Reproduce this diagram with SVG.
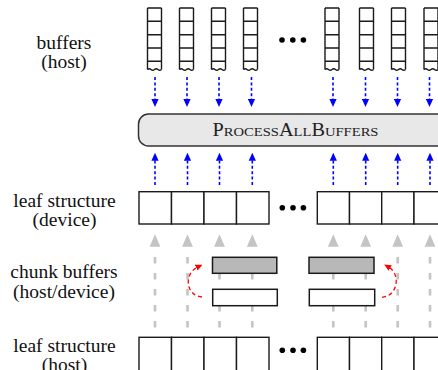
<svg xmlns="http://www.w3.org/2000/svg" xmlns:xlink="http://www.w3.org/1999/xlink" width="438" height="370" viewBox="0 0 438 370">
<style>
  .lbl { font-family: "Liberation Serif", "Times New Roman", serif; font-size: 19.5px; fill: #111; text-anchor: middle; }
  .frame { fill: none; stroke: #1a1a1a; stroke-width: 1.4; }
  .cell { fill: #fff; stroke: #1a1a1a; stroke-width: 1.4; }
  .dot { fill: #000; }
  .blue { fill: none; stroke: #0000ff; stroke-width: 1.6; stroke-dasharray: 3 2.4; }
  .gray { fill: none; stroke: #c4c4c4; stroke-width: 2.6; stroke-dasharray: 6.5 9.5; }
  .grayhead { fill: #c4c4c4; }
  .red { fill: none; stroke: #ff0000; stroke-width: 1.3; stroke-dasharray: 4 3; }
  .chunkfull { fill: #b8b8b8; stroke: #1a1a1a; stroke-width: 1.5; }
  .chunkempty { fill: #fff; stroke: #1a1a1a; stroke-width: 1.5; }
  .proc { fill: #e8e8e8; stroke: #333; stroke-width: 1.5; }
  .proctext { font-family: "Liberation Serif", "Times New Roman", serif; font-size: 18px; font-variant: small-caps; fill: #222; text-anchor: middle; }
</style>
<defs>
  <marker id="bluehead" viewBox="0 0 8 8" markerWidth="8" markerHeight="8" refX="2" refY="4" markerUnits="userSpaceOnUse" orient="auto">
    <path d="M0,0.4 L8,4 L0,7.6 z" fill="#0000ff"/>
  </marker>
  <marker id="redhead" viewBox="0 0 7 7" markerWidth="7" markerHeight="7" refX="2" refY="3.5" markerUnits="userSpaceOnUse" orient="auto">
    <path d="M0,0.3 L7,3.5 L0,6.7 z" fill="#ff0000"/>
  </marker>
  <path id="gh" d="M-5.4,12.4 L0,0 L5.4,12.4 z"/>
  <g id="bufcol">
    <path class="frame" d="M0,8 H14 M0,21.3 H14 M0,34.7 H14 M0,48 H14 M0,61.3 H14 M0,8 V69.5 M14,8 V69.5"/>
    <path class="frame" d="M0,69.5 q1.75,-1.6 3.5,0 t3.5,0 t3.5,0 t3.5,0"/>
  </g>
</defs>
<rect width="438" height="370" fill="#fff"/>

<g id="labels">
  <text class="lbl" x="64" y="49.3">buffers</text>
  <text class="lbl" x="64" y="68.3">(host)</text>
  <text class="lbl" x="64.5" y="206.7">leaf structure</text>
  <text class="lbl" x="64.5" y="226">(device)</text>
  <text class="lbl" x="64" y="278.3">chunk buffers</text>
  <text class="lbl" x="64" y="297.7">(host/device)</text>
  <text class="lbl" x="64.5" y="351.7">leaf structure</text>
  <text class="lbl" x="64.5" y="370.5">(host)</text>
</g>

<g id="host-buffers">
  <use xlink:href="#bufcol" href="#bufcol" x="147.5"/>
  <use xlink:href="#bufcol" href="#bufcol" x="179.5"/>
  <use xlink:href="#bufcol" href="#bufcol" x="211.5"/>
  <use xlink:href="#bufcol" href="#bufcol" x="243.5"/>
  <circle class="dot" cx="282" cy="40" r="2.8"/>
  <circle class="dot" cx="292.8" cy="40" r="2.8"/>
  <circle class="dot" cx="303.4" cy="40" r="2.8"/>
  <use xlink:href="#bufcol" href="#bufcol" x="325"/>
  <use xlink:href="#bufcol" href="#bufcol" x="359.5"/>
  <use xlink:href="#bufcol" href="#bufcol" x="391.5"/>
  <use xlink:href="#bufcol" href="#bufcol" x="424"/>
</g>

<g id="connectors">
  <!-- blue: buffers to ProcessAllBuffers -->
  <path class="blue" marker-end="url(#bluehead)" d="M155,77 V101"/>
  <path class="blue" marker-end="url(#bluehead)" d="M187,77 V101"/>
  <path class="blue" marker-end="url(#bluehead)" d="M219,77 V101"/>
  <path class="blue" marker-end="url(#bluehead)" d="M251.5,77 V101"/>
  <path class="blue" marker-end="url(#bluehead)" d="M333,77 V101"/>
  <path class="blue" marker-end="url(#bluehead)" d="M365.5,77 V101"/>
  <path class="blue" marker-end="url(#bluehead)" d="M397.5,77 V101"/>
  <path class="blue" marker-end="url(#bluehead)" d="M429.5,77 V101"/>
  <!-- blue: leaf (device) to ProcessAllBuffers -->
  <path class="blue" marker-end="url(#bluehead)" d="M155,185 V158.7"/>
  <path class="blue" marker-end="url(#bluehead)" d="M187.5,185 V158.7"/>
  <path class="blue" marker-end="url(#bluehead)" d="M219.5,185 V158.7"/>
  <path class="blue" marker-end="url(#bluehead)" d="M252.3,185 V158.7"/>
  <path class="blue" marker-end="url(#bluehead)" d="M333.3,185 V158.7"/>
  <path class="blue" marker-end="url(#bluehead)" d="M365.7,185 V158.7"/>
  <path class="blue" marker-end="url(#bluehead)" d="M397.7,185 V158.7"/>
  <path class="blue" marker-end="url(#bluehead)" d="M430,185 V158.7"/>
  <!-- gray: leaf (host) to leaf (device) -->
  <path class="gray" d="M155,257 V330"/>
  <path class="gray" d="M187.5,257 V330"/>
  <path class="gray" d="M219.5,257 V330"/>
  <path class="gray" d="M252.3,257 V330"/>
  <path class="gray" d="M333.3,257 V330"/>
  <path class="gray" d="M365.7,257 V330"/>
  <path class="gray" d="M397.7,257 V330"/>
  <path class="gray" d="M430,257 V330"/>
  <use class="grayhead" xlink:href="#gh" href="#gh" x="155" y="234.3"/>
  <use class="grayhead" xlink:href="#gh" href="#gh" x="187.5" y="234.3"/>
  <use class="grayhead" xlink:href="#gh" href="#gh" x="219.5" y="234.3"/>
  <use class="grayhead" xlink:href="#gh" href="#gh" x="252.3" y="234.3"/>
  <use class="grayhead" xlink:href="#gh" href="#gh" x="333.3" y="234.3"/>
  <use class="grayhead" xlink:href="#gh" href="#gh" x="365.7" y="234.3"/>
  <use class="grayhead" xlink:href="#gh" href="#gh" x="397.7" y="234.3"/>
  <use class="grayhead" xlink:href="#gh" href="#gh" x="430" y="234.3"/>
</g>

<g id="process-all-buffers">
  <rect class="proc" x="138.5" y="114" width="320" height="32" rx="10" ry="10"/>
  <text class="proctext" x="295.5" y="135.7" textLength="166" lengthAdjust="spacingAndGlyphs">ProcessAllBuffers</text>
</g>

<g id="leaf-device">
  <rect class="cell" x="139" y="191.7" width="32.5" height="32.3"/>
  <rect class="cell" x="171.5" y="191.7" width="32.5" height="32.3"/>
  <rect class="cell" x="204" y="191.7" width="32.5" height="32.3"/>
  <rect class="cell" x="236.5" y="191.7" width="32.5" height="32.3"/>
  <circle class="dot" cx="282.3" cy="207.7" r="2.8"/>
  <circle class="dot" cx="293" cy="207.7" r="2.8"/>
  <circle class="dot" cx="303.4" cy="207.7" r="2.8"/>
  <rect class="cell" x="317.3" y="191.7" width="32.2" height="32.3"/>
  <rect class="cell" x="349.5" y="191.7" width="32.2" height="32.3"/>
  <rect class="cell" x="381.7" y="191.7" width="32.3" height="32.3"/>
  <rect class="cell" x="414" y="191.7" width="32.3" height="32.3"/>
</g>

<g id="chunk-buffers">
  <rect class="chunkfull" x="212.5" y="257.3" width="64.3" height="16"/>
  <rect class="chunkempty" x="212.7" y="289.3" width="64.6" height="16.4"/>
  <rect class="chunkfull" x="309" y="257.3" width="65" height="16"/>
  <rect class="chunkempty" x="309.3" y="289.3" width="65.4" height="16.4"/>
</g>

<g id="swap-arrows">
  <path class="red" marker-end="url(#redhead)" d="M202,297 C186,296 183,274 198,266.8"/>
  <path class="red" marker-end="url(#redhead)" d="M382,297.3 C398,296 401,274 388.5,267"/>
</g>

<g id="leaf-host">
  <rect class="cell" x="139" y="337.3" width="32.5" height="40"/>
  <rect class="cell" x="171.5" y="337.3" width="32.5" height="40"/>
  <rect class="cell" x="204" y="337.3" width="32.5" height="40"/>
  <rect class="cell" x="236.5" y="337.3" width="32.5" height="40"/>
  <circle class="dot" cx="282.3" cy="350.3" r="2.8"/>
  <circle class="dot" cx="293" cy="350.3" r="2.8"/>
  <circle class="dot" cx="303.4" cy="350.3" r="2.8"/>
  <rect class="cell" x="317.3" y="337.3" width="32.2" height="40"/>
  <rect class="cell" x="349.5" y="337.3" width="32.2" height="40"/>
  <rect class="cell" x="381.7" y="337.3" width="32.3" height="40"/>
  <rect class="cell" x="414" y="337.3" width="32.3" height="40"/>
</g>
</svg>
